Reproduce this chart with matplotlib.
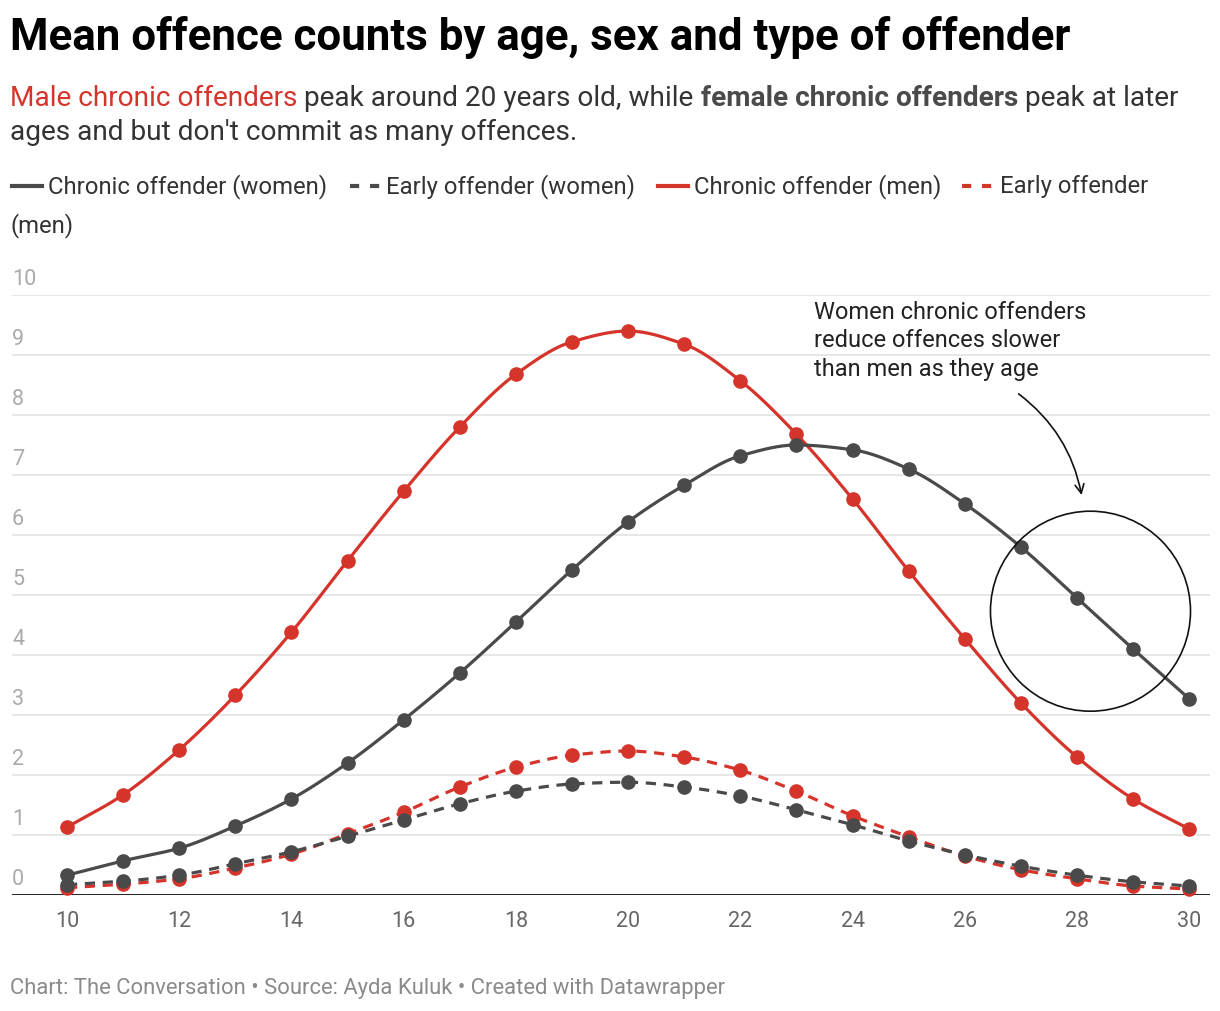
import numpy as np
import matplotlib
matplotlib.use("Agg")
import matplotlib.pyplot as plt
from matplotlib.patches import Ellipse
from matplotlib.lines import Line2D

plt.rcParams['font.family'] = ['Roboto', 'DejaVu Sans']

ages = list(range(10, 31))
chronic_women = [0.33, 0.57, 0.78, 1.15, 1.60, 2.20, 2.92, 3.70, 4.55, 5.42, 6.22,
                 6.83, 7.32, 7.50, 7.42, 7.10, 6.52, 5.80, 4.95, 4.10, 3.27]
early_women = [0.17, 0.23, 0.33, 0.52, 0.72, 0.98, 1.25, 1.52, 1.73, 1.85, 1.88,
               1.80, 1.65, 1.42, 1.17, 0.90, 0.67, 0.48, 0.33, 0.22, 0.15]
chronic_men = [1.13, 1.67, 2.42, 3.33, 4.38, 5.57, 6.73, 7.80, 8.68, 9.22, 9.40,
               9.18, 8.57, 7.68, 6.60, 5.40, 4.27, 3.20, 2.30, 1.60, 1.10]
early_men = [0.12, 0.18, 0.27, 0.45, 0.68, 1.02, 1.38, 1.80, 2.13, 2.33, 2.40,
             2.30, 2.08, 1.73, 1.32, 0.97, 0.65, 0.42, 0.27, 0.15, 0.10]
y_ticks = [0, 1, 2, 3, 4, 5, 6, 7, 8, 9, 10]
x_ticks = [10, 12, 14, 16, 18, 20, 22, 24, 26, 28, 30]

RED = "#d5342b"
DARK = "#4a4a4a"


def monotone(x, y, n=20):
    # monotone cubic (Fritsch-Carlson), like d3 curveMonotoneX
    x = np.asarray(x, float)
    y = np.asarray(y, float)
    h = np.diff(x)
    d = np.diff(y) / h
    m = np.zeros_like(y)
    m[0], m[-1] = d[0], d[-1]
    for i in range(1, len(y) - 1):
        if d[i - 1] * d[i] <= 0:
            m[i] = 0
        else:
            w1 = 2 * h[i] + h[i - 1]
            w2 = h[i] + 2 * h[i - 1]
            m[i] = (w1 + w2) / (w1 / d[i - 1] + w2 / d[i])
    xs, ys = [], []
    for i in range(len(h)):
        t = np.linspace(0, 1, n, endpoint=False)
        h00 = 2 * t**3 - 3 * t**2 + 1
        h10 = t**3 - 2 * t**2 + t
        h01 = -2 * t**3 + 3 * t**2
        h11 = t**3 - t**2
        xs.extend(x[i] + t * h[i])
        ys.extend(h00 * y[i] + h10 * h[i] * m[i] + h01 * y[i + 1] + h11 * h[i] * m[i + 1])
    xs.append(x[-1])
    ys.append(y[-1])
    return np.array(xs), np.array(ys)


fig = plt.figure(figsize=(12.2, 10.12), dpi=100)
ax = fig.add_axes([12 / 1220, 116 / 1012, 1198 / 1220, 600 / 1012])
ax.set_xlim(9.02, 30.37)
ax.set_ylim(0, 10)
ax.axis("off")

for v in y_ticks[1:]:
    ax.axhline(v, color="#e3e3e3", lw=1.2, zorder=0)
    ax.text(9.02, v + 0.1, str(v), color="#aaaaaa", fontsize=15.5, va="bottom", ha="left")
ax.text(9.02, 0.1, "0", color="#aaaaaa", fontsize=15.5, va="bottom", ha="left")
ax.axhline(0, color="#111111", lw=2, zorder=1)

for v in x_ticks:
    ax.text(v, -0.42, str(v), color="#666666", fontsize=15.5, ha="center", va="center")

series = [
    (chronic_men, RED, "-"),
    (early_men, RED, (0, (3.2, 2.4))),
    (chronic_women, DARK, "-"),
    (early_women, DARK, (0, (3.2, 2.4))),
]
for z, (vals, col, ls) in enumerate(series):
    sx, sy = monotone(ages, vals)
    ax.plot(sx, sy, color=col, lw=2.3, ls=ls, zorder=3 + z, clip_on=False)
    ax.plot(ages, vals, "o", color=col, ms=9.5, zorder=3 + z, clip_on=False)

# annotation
ax.add_patch(Ellipse((28.24, 4.73), 200 / 56.1, 200 / 60, fill=False, ec="#111111", lw=1.2, zorder=8))
ax.annotate("", xy=(28.09, 6.62), xytext=(26.92, 8.38),
            arrowprops=dict(arrowstyle="->", color="#111111", lw=1.2,
                            connectionstyle="arc3,rad=-0.2", mutation_scale=16))
ax.text(23.32, 9.92, "Women chronic offenders\nreduce offences slower\nthan men as they age",
        fontsize=17, color="#222222", va="top", ha="left", linespacing=1.3)

# title
fig.text(10 / 1220, 1 - 50 / 1012, "Mean offence counts by age, sex and type of offender",
         fontsize=31.6, fontweight="bold", color="#000000", va="baseline")

# subtitle with coloured pieces
renderer = fig.canvas.get_renderer()
pieces = [("Male chronic offenders", RED, "normal"),
          (" peak around 20 years old, while ", "#333333", "normal"),
          ("female chronic offenders", DARK, "bold"),
          (" peak at later", "#333333", "normal")]
x0 = 10
for txt, col, wt in pieces:
    t = fig.text(x0 / 1220, 1 - 106 / 1012, txt, fontsize=20.2, color=col,
                 fontweight=wt, va="baseline")
    x0 += t.get_window_extent(renderer).width
fig.text(10 / 1220, 1 - 140 / 1012, "ages and but don't commit as many offences.",
         fontsize=20.2, color="#333333", va="baseline")

# legend
legend = [(12, 48, "Chronic offender (women)", DARK, "-"),
          (350, 386, "Early offender (women)", DARK, (0, (2.2, 2.6))),
          (658, 694, "Chronic offender (men)", RED, "-"),
          (962, 1000, "Early offender", RED, (0, (2.2, 2.6)))]
for lx, tx, txt, col, ls in legend:
    fig.add_artist(Line2D([lx / 1220, (lx + 30) / 1220], [1 - 187 / 1012] * 2,
                          color=col, lw=3, ls=ls))
    fig.text(tx / 1220, 1 - 187 / 1012, txt, fontsize=17.2, color="#333333", va="center")
fig.text(10 / 1220, 1 - 226 / 1012, "(men)", fontsize=17.2, color="#333333", va="center")

fig.text(10 / 1220, 1 - 989 / 1012,
         "Chart: The Conversation \u2022 Source: Ayda Kuluk \u2022 Created with Datawrapper",
         fontsize=15.8, color="#8a8a8a", va="center")

fig.savefig("out.png", dpi=100)
